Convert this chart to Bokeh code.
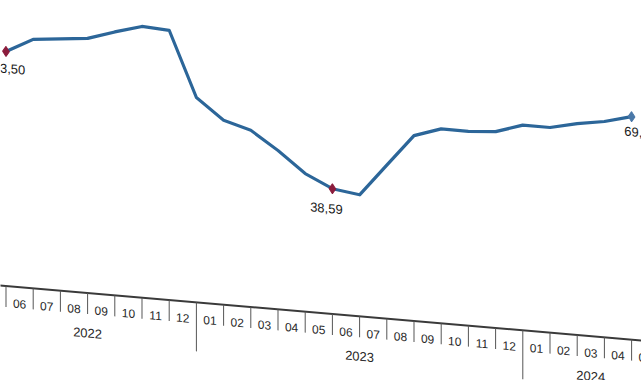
from bokeh.plotting import figure
from bokeh.models import Range1d, InlineStyleSheet
from bokeh.layouts import column
from bokeh.core.properties import value
from bokeh.embed import file_html
from bokeh.resources import INLINE

# ---------------- data ----------------
month_labels = ["05", "06", "07", "08", "09", "10", "11", "12",
                "01", "02", "03", "04", "05", "06", "07", "08", "09", "10", "11", "12",
                "01", "02", "03", "04", "05"]
cell_years = ["2022"] * 8 + ["2023"] * 12 + ["2024"] * 5

values = [73.50, 78.1, 79.0, 79.9, 82.7, 85.2, 84.7, 64.0, 57.5, 55.0, 49.3, 42.7,
          38.59, 37.4, 47.6, 57.8, 60.7, 60.6, 61.3, 64.1, 64.1, 66.1, 67.5, 69.80]
labeled_points = [0, 12, 23]

# ---------------- figure ----------------
W, H = 641, 380
FONT = value("Liberation Sans")
LINE_C = "#2c6699"
MARK_C = "#8b1c3c"

p = figure(width=W, height=H, x_range=Range1d(-0.202, 23.364), y_range=Range1d(-31.75, 89.6),
           output_backend="svg", toolbar_location=None, min_border=0,
           x_axis_location=None, y_axis_location=None,
           outline_line_color=None, background_fill_color="white", border_fill_color="white")
p.grid.visible = False
p.extra_y_ranges = {"px": Range1d(H, 0)}
p.stylesheets = [InlineStyleSheet(css=".bk-Canvas { transform: skewY(4.9deg); transform-origin: 0 0; }")]

xs = list(range(len(values)))
p.line(xs, values, line_color=LINE_C, line_width=3.2, line_join="round")

lx = [xs[i] for i in labeled_points]
ly = [values[i] for i in labeled_points]
ltxt = [f"{values[i]:.2f}".replace(".", ",") for i in labeled_points]
p.scatter(lx[:2], ly[:2], marker="diamond", size=10, fill_color=MARK_C, line_color=MARK_C)
p.scatter(lx[2:], ly[2:], marker="diamond", size=10, fill_color="#4a78a8", line_color="#4a78a8")
for x, y, t, dx, dy in zip(lx, ly, ltxt, [3, -6, 9], [17, 20, 15]):
    p.text([x], [y], text=[t], x_offset=dx, y_offset=dy, text_align="center",
           text_baseline="middle", text_font=FONT, text_font_size="13px", text_color="#1a1a1a")

# ---------------- category table (pixel rows) ----------------
first_cell = -1
xr = p.x_range
AXIS_Y, SEP_SHORT, SEP_LONG, MONTH_Y, YEAR_Y = 285, 306, 334, 301.5, 325

p.segment(x0=[xr.start - 1], x1=[xr.end + 1], y0=[AXIS_Y], y1=[AXIS_Y], y_range_name="px",
          line_color="#3a3a3a", line_width=2)

bounds = list(range(first_cell, first_cell + len(month_labels) + 1))
year_bounds = [first_cell + i for i in range(1, len(cell_years)) if cell_years[i] != cell_years[i - 1]]
short_b = [b for b in bounds if b not in year_bounds]
p.segment(x0=short_b, x1=short_b, y0=[AXIS_Y] * len(short_b), y1=[SEP_SHORT] * len(short_b),
          y_range_name="px", line_color="#555555", line_width=1)
p.segment(x0=year_bounds, x1=year_bounds, y0=[AXIS_Y] * len(year_bounds), y1=[SEP_LONG] * len(year_bounds),
          y_range_name="px", line_color="#555555", line_width=1)

mx = [first_cell + i + 0.5 for i in range(len(month_labels))]
p.text(mx, [MONTH_Y] * len(mx), text=month_labels, y_range_name="px", text_align="center",
       text_baseline="middle", text_font=FONT, text_font_size="12px", text_color="#2a2a2a")

years = []
for i, y in enumerate(cell_years):
    if not years or years[-1][0] != y:
        years.append([y, first_cell + i, first_cell + i + 1])
    else:
        years[-1][2] = first_cell + i + 1
p.text([(a + b) / 2 for _, a, b in years], [YEAR_Y] * len(years), text=[y for y, _, _ in years],
       y_range_name="px", text_align="center", text_baseline="middle", text_font=FONT,
       text_font_size="13px", text_color="#2a2a2a")

layout = column(p, width=W, height=H, styles={"overflow": "hidden"})
open("out.html", "w").write(file_html(layout, INLINE))
